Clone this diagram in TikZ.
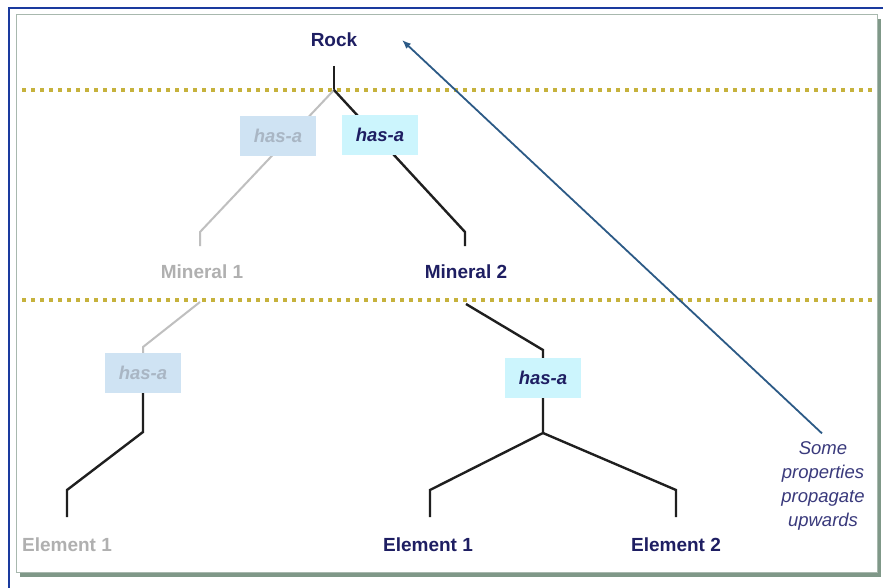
\documentclass[tikz,border=0pt]{standalone}
\usepackage{fontspec}
\setmainfont{Liberation Sans}
\usetikzlibrary{arrows.meta}

\definecolor{navy}{HTML}{1E1E62}
\definecolor{fadedtext}{HTML}{B0B0B0}
\definecolor{fadedbox}{HTML}{CFE3F3}
\definecolor{fadedboxtext}{HTML}{A9B6C4}
\definecolor{livebox}{HTML}{CCF5FD}
\definecolor{dotcol}{HTML}{C6B23C}
\definecolor{arrowcol}{HTML}{2C5A86}
\definecolor{framecol}{HTML}{1A3A9E}
\definecolor{panelline}{HTML}{A8B8AE}
\definecolor{panelshadow}{HTML}{7F9888}
\definecolor{notecol}{HTML}{3A3A7C}

\tikzset{
  x=1pt, y=-1pt,
  lbl/.style={font=\fontsize{19}{22}\selectfont\bfseries, inner sep=0pt},
  live/.style={lbl, text=navy},
  faded/.style={lbl, text=fadedtext},
  hasbox/.style={font=\fontsize{18.5}{22}\selectfont\bfseries\itshape, inner sep=0pt,
                 minimum width=76pt, minimum height=40pt},
  livebox/.style={hasbox, fill=livebox, text=navy},
  fadedbox/.style={hasbox, fill=fadedbox, text=fadedboxtext},
  liveline/.style={draw=black!88, line width=2.4pt},
  fadedline/.style={draw=black!25, line width=2pt},
  levelline/.style={draw=dotcol, line width=4pt, dash pattern=on 4pt off 5pt},
  note/.style={font=\fontsize{18.5}{24}\selectfont\itshape, text=notecol, align=center, inner sep=0pt},
}

\begin{document}
\begin{tikzpicture}
\useasboundingbox (0,0) rectangle (883,588);
\fill[white] (0,0) rectangle (883,588);

% outer frame and panel
\draw[framecol, line width=2.5pt] (9,592) -- (9,8) -- (886,8);
\fill[panelshadow] (20,19) rectangle (881,577);
\filldraw[fill=white, draw=panelline, line width=1pt] (16,15) rectangle (877,572);

% level separators
\draw[levelline] (22,90) -- (875,90);
\draw[levelline] (22,300) -- (875,300);

% bend points of the tree
\coordinate (r0) at (334,66);
\coordinate (r1) at (334,90);
\coordinate (a1) at (200,232);
\coordinate (a2) at (200,246);
\coordinate (b1) at (465,232);
\coordinate (b2) at (465,246);
\coordinate (c0) at (200,302);
\coordinate (c1) at (143,347);
\coordinate (c2) at (143,432);
\coordinate (c3) at (67,490);
\coordinate (c4) at (67,517);
\coordinate (d0) at (466,304);
\coordinate (d1) at (543,350);
\coordinate (d2) at (543,433);
\coordinate (d3) at (430,490);
\coordinate (d4) at (430,517);
\coordinate (d5) at (676,490);
\coordinate (d6) at (676,517);

% top branches run underneath their relation boxes
\draw[liveline] (r0) -- (r1);
\draw[fadedline] (r1) -- (a1) -- (a2);
\draw[liveline] (r1) -- (b1) -- (b2);

% labels
\node[live]  (rock) at (334,40)  {Rock};
\node[faded] (min1) at (202,272) {Mineral 1};
\node[live]  (min2) at (466,272) {Mineral 2};
\node[faded] (elA)  at (67,545)  {Element 1};
\node[live]  (elB)  at (428,545) {Element 1};
\node[live]  (elC)  at (676,545) {Element 2};

% relation boxes
\node[fadedbox] (h1) at (278,136) {has-a};
\node[livebox]  (h2) at (380,135) {has-a};
\node[fadedbox] (h3) at (143,373) {has-a};
\node[livebox]  (h4) at (543,378) {has-a};

\draw[fadedline] (c0) -- (c1) -- (h3.north);
\draw[liveline] (h3.south) -- (c2) -- (c3) -- (c4);
\draw[liveline] (d0) -- (d1) -- (h4.north);
\draw[liveline] (h4.south) -- (d2) -- (d3) -- (d4);
\draw[liveline] (d2) -- (d5) -- (d6);

% note and arrow
\node[note] (txt) at (823,486) {Some\\properties\\propagate\\upwards};
\coordinate (tip) at (402,40);
\draw[arrowcol, line width=1.8pt, -{Latex[length=9pt,width=7pt]}] (txt.north) ++(-1,-8) -- (tip);
\end{tikzpicture}
\end{document}
